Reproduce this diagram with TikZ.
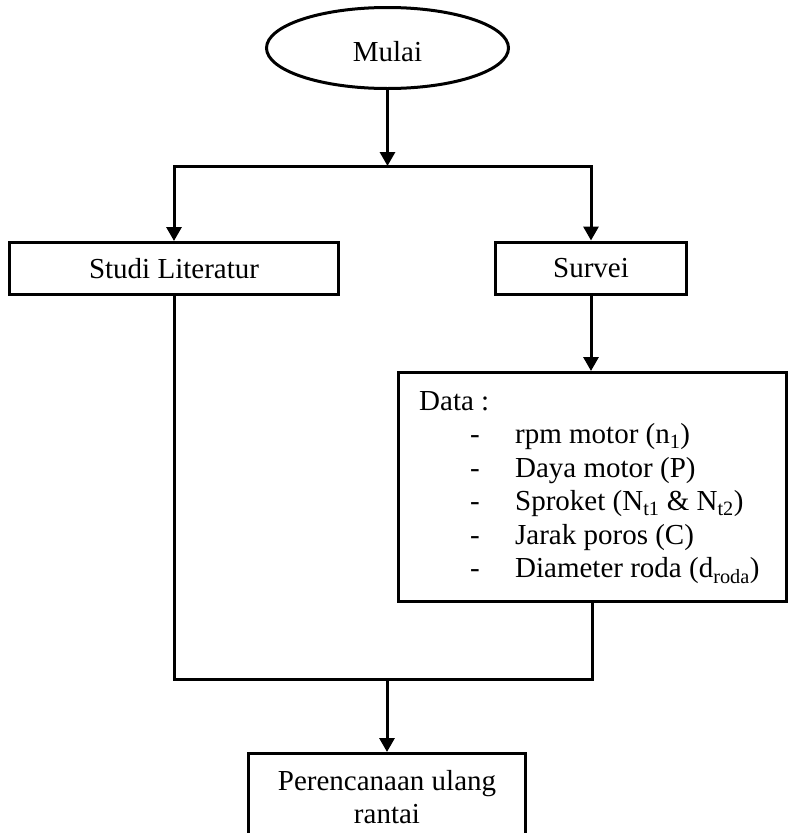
\documentclass[tikz,border=0pt]{standalone}
\usepackage{fontspec}
\setmainfont{Liberation Serif}
\usetikzlibrary{arrows.meta,shapes.geometric,calc}
\begin{document}
\begin{tikzpicture}[x=1pt,y=-1pt,
  every node/.style={font=\fontsize{29}{33.5}\selectfont},
  boxnode/.style={draw, line width=3pt, rectangle, inner sep=0pt},
  termnode/.style={draw, line width=3pt, ellipse, inner sep=0pt},
  conn/.style={line width=3pt},
  arr/.style={line width=3pt, -{Triangle[length=14pt,width=15pt]}}]
\useasboundingbox (0,0) rectangle (794,833);
\clip (0,0) rectangle (794,833);

\node[termnode, minimum width=242, minimum height=81, text height=27pt, text depth=0pt] (mulai) at (387.5,48) {Mulai};
\node[boxnode, minimum width=329, minimum height=52] (studi) at (174,268.5) {Studi Literatur};
\node[boxnode, minimum width=191, minimum height=52] (survei) at (591,268) {Survei};
\node[boxnode, minimum width=388, minimum height=229] (data) at (592.5,487) {};
\node[anchor=base west, inner sep=0pt] (datatext) at (419,410) {%
\begin{tabular}[t]{@{}p{51pt}@{}p{45pt}@{}l@{}}
\multicolumn{3}{@{}l@{}}{Data :}\\
& - & rpm motor (n\textsubscript{1})\\
& - & Daya motor (P)\\
& - & Sproket (N\textsubscript{t1} \& N\textsubscript{t2})\\
& - & Jarak poros (C)\\
& - & Diameter roda (d\textsubscript{roda})
\end{tabular}};
\node[boxnode, minimum width=277, minimum height=95] (plan) at (387,801) {};
\node[anchor=base, inner sep=0pt] (plantext) at (387,790) {%
\begin{tabular}[t]{@{}c@{}}Perencanaan ulang\\rantai\end{tabular}};

\coordinate (split) at (387.5,166);
\coordinate (merge) at (387,679);

\draw[arr] (mulai.south) -- (split);
\draw[arr] (split) -| (studi.north);
\draw[arr] (split) -| (survei.north);
\draw[arr] (survei.south) -- (survei.south |- data.north);
\draw[conn] (studi.south) |- (merge) -| (data.south);
\draw[arr] (merge) -- (plan.north);
\end{tikzpicture}
\end{document}
